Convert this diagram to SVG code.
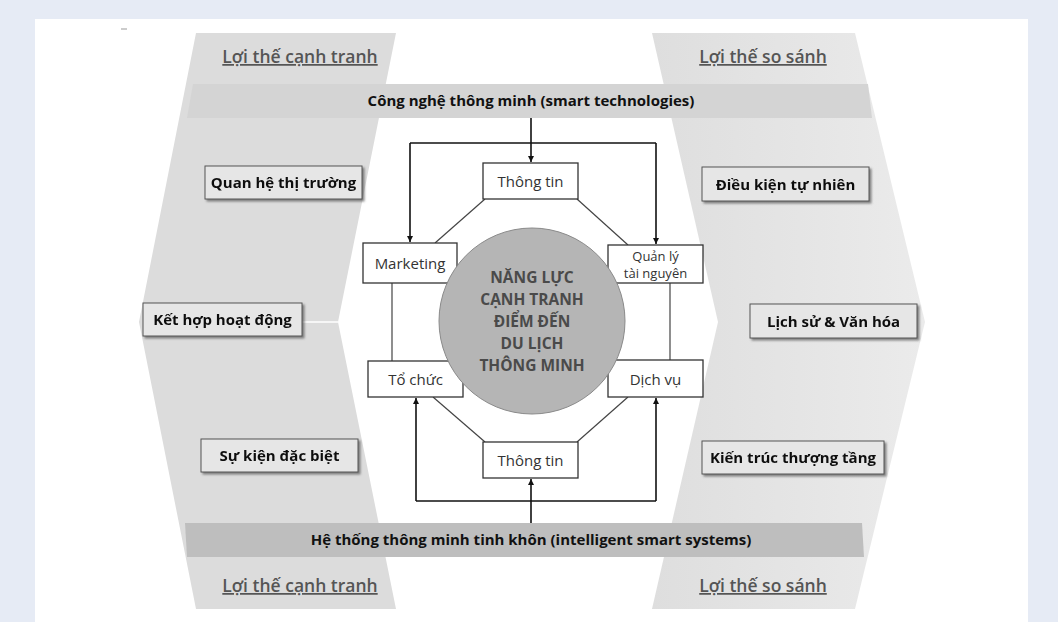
<svg xmlns="http://www.w3.org/2000/svg" width="1058" height="622" viewBox="0 0 1058 622">
<style>
.hdr{font-family:"Open Sans","Noto Sans",sans-serif;font-weight:600;font-size:17.5px;fill:#555;text-anchor:middle;text-decoration:underline}
.band{font-family:"Open Sans","Noto Sans",sans-serif;font-weight:700;font-size:15px;fill:#111;text-anchor:middle}
.sbox{fill:#e6e6e6;stroke:#555;stroke-width:1}
.stxt{font-family:"Open Sans","Noto Sans",sans-serif;font-weight:700;font-size:15px;fill:#111;text-anchor:middle}
.cbox{fill:#fff;stroke:#333;stroke-width:1.3}
.ctxt{font-family:"Open Sans","Noto Sans",sans-serif;font-size:15px;fill:#333;text-anchor:middle}
.small{font-size:13px}
.circ{font-family:"Open Sans","Noto Sans",sans-serif;font-weight:700;font-size:15.5px;fill:#4a4a4a;text-anchor:middle}
.arr{fill:none;stroke:#111;stroke-width:1.6}
.oct{fill:none;stroke:#444;stroke-width:1.2}
</style>
<defs>
<marker id="ah" viewBox="0 0 6 6" refX="6" refY="3" markerWidth="6" markerHeight="6" markerUnits="userSpaceOnUse" orient="auto">
<path d="M0,0 L6,3 L0,6 z" fill="#111"/>
</marker>
<filter id="sh" x="-10%" y="-20%" width="130%" height="160%">
<feDropShadow dx="2" dy="2" stdDeviation="1.2" flood-color="#555" flood-opacity="0.7"/>
</filter>
<linearGradient id="rg" x1="0" y1="0" x2="1" y2="0">
<stop offset="0" stop-color="#dedede"/>
<stop offset="1" stop-color="#ebebeb"/>
</linearGradient>
</defs>
<rect x="0" y="0" width="1058" height="622" fill="#e6ebf5"/>
<rect x="35" y="19" width="993" height="603" fill="#fff"/>
<line x1="121" y1="29" x2="127" y2="29" stroke="#999" stroke-width="1"/>

<g id="left-chevron">
<polygon points="196,33 396,33 338,322 396,609 196,609 139,322" fill="#dcdcdc"/>
<line x1="300" y1="322" x2="338" y2="322" stroke="#fff" stroke-width="1.5"/>
</g>
<g id="right-chevron">
<polygon points="652,33 855,33 925,322 855,609 652,609 718,322" fill="url(#rg)"/>
</g>

<g id="header-top-left"><text class="hdr" x="300" y="63">Lợi thế cạnh tranh</text></g>
<g id="header-top-right"><text class="hdr" x="763" y="63">Lợi thế so sánh</text></g>
<g id="header-bottom-left"><text class="hdr" x="300" y="592">Lợi thế cạnh tranh</text></g>
<g id="header-bottom-right"><text class="hdr" x="763" y="592">Lợi thế so sánh</text></g>

<g id="band-top">
<polygon points="193,84 868,84 872,118 187,118" fill="#d4d4d4"/>
<text class="band" x="531" y="106">Công nghệ thông minh (smart technologies)</text>
</g>
<g id="band-bottom">
<polygon points="185,523 862,523 864,557 187,557" fill="#bebebe"/>
<text class="band" x="531" y="545">Hệ thống thông minh tinh khôn (intelligent smart systems)</text>
</g>

<g id="box-quan-he" filter="url(#sh)"><rect class="sbox" x="205" y="166" width="157" height="33"/><text class="stxt" x="283.5" y="188">Quan hệ thị trường</text></g>
<g id="box-ket-hop" filter="url(#sh)"><rect class="sbox" x="143" y="303" width="159" height="33"/><text class="stxt" x="222.5" y="325">Kết hợp hoạt động</text></g>
<g id="box-su-kien" filter="url(#sh)"><rect class="sbox" x="201" y="439" width="157" height="33"/><text class="stxt" x="279.5" y="461">Sự kiện đặc biệt</text></g>
<g id="box-dieu-kien" filter="url(#sh)"><rect class="sbox" x="702" y="167" width="167" height="34"/><text class="stxt" x="785.5" y="189.5">Điều kiện tự nhiên</text></g>
<g id="box-lich-su" filter="url(#sh)"><rect class="sbox" x="750" y="304" width="167" height="34"/><text class="stxt" x="833.5" y="326.5">Lịch sử &amp; Văn hóa</text></g>
<g id="box-kien-truc" filter="url(#sh)"><rect class="sbox" x="702" y="441" width="182" height="33"/><text class="stxt" x="793" y="463">Kiến trúc thượng tầng</text></g>

<g id="connectors">
<path class="arr" d="M531,118 V162" marker-end="url(#ah)"/>
<path class="arr" d="M410,143 H656"/>
<path class="arr" d="M410,143 V242" marker-end="url(#ah)"/>
<path class="arr" d="M656,143 V244" marker-end="url(#ah)"/>
<path class="arr" d="M416,501 H656"/>
<path class="arr" d="M416,501 V398" marker-end="url(#ah)"/>
<path class="arr" d="M656,501 V398" marker-end="url(#ah)"/>
<path class="arr" d="M531,523 V479" marker-end="url(#ah)"/>
<path class="oct" d="M485,199 L435,243"/>
<path class="oct" d="M577,199 L628,245"/>
<path class="oct" d="M392,283 V361"/>
<path class="oct" d="M670,283 V360"/>
<path class="oct" d="M433,397 L485,442"/>
<path class="oct" d="M628,397 L577,442"/>
</g>

<g id="node-thong-tin-top"><rect class="cbox" x="483" y="163" width="95" height="36"/><text class="ctxt" x="530.5" y="186.5">Thông tin</text></g>
<g id="node-marketing"><rect class="cbox" x="363" y="243" width="94" height="40"/><text class="ctxt" x="410" y="268.5">Marketing</text></g>
<g id="node-quan-ly"><rect class="cbox" x="608" y="245" width="95" height="38"/><text class="ctxt small" x="655.5" y="261">Quản lý</text><text class="ctxt small" x="655.5" y="278">tài nguyên</text></g>
<g id="node-to-chuc"><rect class="cbox" x="368" y="361" width="95" height="36"/><text class="ctxt" x="415.5" y="385">Tổ chức</text></g>
<g id="node-dich-vu"><rect class="cbox" x="608" y="360" width="95" height="37"/><text class="ctxt" x="655.5" y="384.5">Dịch vụ</text></g>
<g id="node-thong-tin-bottom"><rect class="cbox" x="483" y="442" width="95" height="36"/><text class="ctxt" x="530.5" y="465.5">Thông tin</text></g>

<g id="node-center">
<circle cx="532" cy="321" r="93" fill="#b5b5b5" stroke="#8a8a8a" stroke-width="1"/>
<text class="circ" x="532" y="283">NĂNG LỰC</text>
<text class="circ" x="532" y="305">CẠNH TRANH</text>
<text class="circ" x="532" y="327">ĐIỂM ĐẾN</text>
<text class="circ" x="532" y="349">DU LỊCH</text>
<text class="circ" x="532" y="371">THÔNG MINH</text>
</g>
</svg>
